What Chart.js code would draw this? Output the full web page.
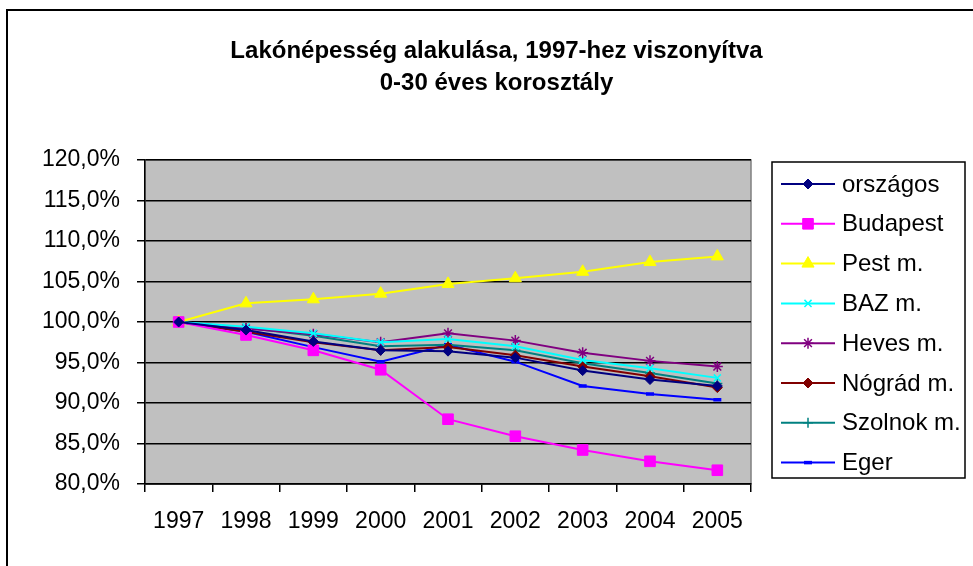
<!DOCTYPE html>
<html>
<head>
<meta charset="utf-8">
<script src="https://cdn.jsdelivr.net/npm/chart.js@4.4.1/dist/chart.umd.min.js"></script>
<style>
html, body { margin: 0; padding: 0; background: #fff; overflow: hidden; }
#keret { position: absolute; left: 6px; top: 9px; width: 1000px; height: 600px; border-left: 2px solid #000; border-top: 2px solid #000; }
#grafikon { position: absolute; left: 0; top: 0; }
</style>
</head>
<body>
<div id="keret"></div>
<canvas id="grafikon" width="973" height="566"></canvas>
<script>
// adatok (1997 = 100%)
const evek = ["1997", "1998", "1999", "2000", "2001", "2002", "2003", "2004", "2005"];
const orszagos = [100, 99.0, 97.6, 96.5, 96.4, 95.6, 94.0, 92.9, 92.1];
const budapest = [100, 98.4, 96.5, 94.1, 88.0, 85.9, 84.2, 82.8, 81.7];
const pestMegye = [100, 102.3, 102.8, 103.5, 104.7, 105.4, 106.2, 107.4, 108.1];
const bazMegye = [100, 99.4, 98.6, 97.5, 97.9, 97.0, 95.3, 94.3, 93.1];
const hevesMegye = [100, 99.2, 98.5, 97.5, 98.6, 97.7, 96.2, 95.2, 94.5];
const nogradMegye = [100, 98.8, 97.5, 96.5, 96.9, 95.9, 94.5, 93.3, 91.9];
const szolnokMegye = [100, 99.3, 98.3, 97.0, 97.2, 96.5, 94.9, 93.7, 92.4];
const eger = [100, 98.8, 96.9, 95.1, 97.2, 95.1, 92.1, 91.1, 90.4];

const betu = '"Liberation Sans", Arial, sans-serif';

function sorozat(nev, adat, szin, stilus, meret, vastag) {
    return {
        label: nev,
        data: adat,
        borderColor: szin,
        backgroundColor: szin,
        pointBackgroundColor: szin,
        pointBorderColor: szin,
        pointStyle: stilus,
        pointRadius: meret,
        pointBorderWidth: vastag,
        borderWidth: 2,
        fill: false,
        tension: 0
    };
}

const datasets = [
    sorozat("országos", orszagos, "#000080", "rectRot", 5, 1),
    sorozat("Budapest", budapest, "#FF00FF", "rect", 7.5, 1),
    sorozat("Pest m.", pestMegye, "#FFFF00", "triangle", 7, 1),
    sorozat("BAZ m.", bazMegye, "#00FFFF", "crossRot", 5, 1.5),
    sorozat("Heves m.", hevesMegye, "#800080", "star", 5.5, 1.5),
    sorozat("Nógrád m.", nogradMegye, "#800000", "rectRot", 5, 1),
    sorozat("Szolnok m.", szolnokMegye, "#008080", "cross", 5, 1.5),
    sorozat("Eger", eger, "#0000FF", "line", 4, 3.5)
];

// szürke rajzterület
const hatter = {
    id: 'hatter',
    beforeDraw(chart) {
        const a = chart.chartArea;
        const ctx = chart.ctx;
        ctx.save();
        ctx.fillStyle = "#C0C0C0";
        ctx.fillRect(a.left, a.top, a.right - a.left, a.bottom - a.top);
        ctx.strokeStyle = "#808080";
        ctx.lineWidth = 1.5;
        ctx.strokeRect(a.left, a.top, a.right - a.left, a.bottom - a.top);
        ctx.restore();
    }
};

// jelmagyarázat kerettel, vonal + jelölő
const jelmagyarazat = {
    id: 'jelmagyarazat',
    afterDraw(chart) {
        const ctx = chart.ctx;
        const x0 = 772, y0 = 162, w = 193, h = 316;
        ctx.save();
        ctx.fillStyle = "#fff";
        ctx.fillRect(x0, y0, w, h);
        ctx.strokeStyle = "#000";
        ctx.lineWidth = 1.5;
        ctx.strokeRect(x0, y0, w, h);
        chart.data.datasets.forEach((ds, i) => {
            const y = 184 + i * 39.8;
            ctx.strokeStyle = ds.borderColor;
            ctx.lineWidth = 2;
            ctx.beginPath();
            ctx.moveTo(781, y);
            ctx.lineTo(835, y);
            ctx.stroke();
            ctx.fillStyle = ds.pointBackgroundColor;
            ctx.strokeStyle = ds.pointBorderColor;
            ctx.lineWidth = ds.pointBorderWidth;
            if (Chart.helpers && Chart.helpers.drawPoint) {
                Chart.helpers.drawPoint(ctx, {
                    pointStyle: ds.pointStyle,
                    radius: ds.pointRadius,
                    rotation: 0,
                    borderWidth: ds.pointBorderWidth
                }, 808, y);
            }
            ctx.fillStyle = "#000";
            ctx.font = "24px " + betu;
            ctx.textBaseline = "middle";
            ctx.textAlign = "left";
            ctx.fillText(ds.label, 842, y + 1);
        });
        ctx.restore();
    }
};

new Chart(document.getElementById("grafikon"), {
    type: "line",
    data: { labels: evek, datasets },
    plugins: [hatter, jelmagyarazat],
    options: {
        responsive: false,
        animation: false,
        layout: { padding: { left: 20, right: 0, top: 0, bottom: 0 } },
        plugins: {
            legend: { display: false },
            tooltip: { enabled: false },
            title: {
                display: true,
                text: ["Lakónépesség alakulása, 1997-hez viszonyítva", "0-30 éves korosztály"],
                color: "#000",
                font: { family: betu, size: 24, weight: "bold", lineHeight: 1.333 },
                padding: { top: 35, bottom: 61 }
            }
        },
        scales: {
            x: {
                offset: true,
                grid: { offset: true, drawOnChartArea: false, color: "#000", tickLength: 8, lineWidth: 1.5 },
                border: { color: "#000", width: 1.5 },
                ticks: { color: "#000", padding: 16, maxRotation: 0, autoSkip: false, font: { family: betu, size: 23 } },
                afterFit(scale) { scale.height = 82; }
            },
            y: {
                min: 80,
                max: 120,
                grid: { color: "#000", lineWidth: 1.5, tickLength: 8 },
                border: { color: "#000", width: 1.5 },
                ticks: {
                    stepSize: 5,
                    color: "#000",
                    padding: 17,
                    font: { family: betu, size: 23 },
                    callback: v => v.toFixed(1).replace(".", ",") + "%"
                },
                afterFit(scale) { scale.width = 125; }
            },
            hely: {
                position: "right",
                display: true,
                grid: { display: false },
                border: { display: false },
                ticks: { display: false },
                afterFit(scale) { scale.width = 222; }
            }
        }
    }
});
</script>
</body>
</html>
